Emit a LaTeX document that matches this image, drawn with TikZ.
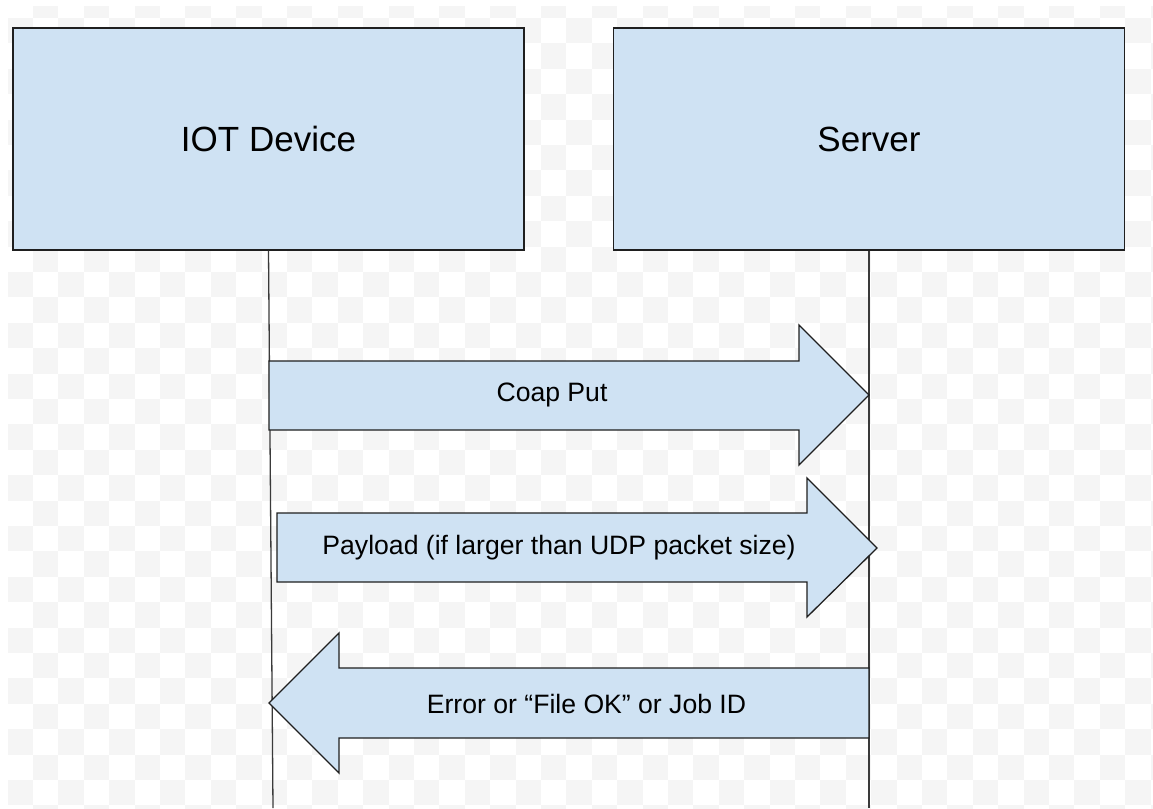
\documentclass[tikz,border=0pt]{standalone}
\usepackage{fontspec}
\setmainfont{Liberation Sans}
\definecolor{boxfill}{HTML}{CFE2F3}
\definecolor{edge}{HTML}{1F1F1F}
\definecolor{lifecol}{HTML}{3A3A3A}
\definecolor{checker}{HTML}{F5F5F5}
\tikzset{
  actor/.style={draw=edge, fill=boxfill, line width=1.3pt, minimum width=511pt, minimum height=222pt, inner sep=0pt, font=\fontsize{35}{40}\selectfont},
  lifeline/.style={draw=lifecol, line width=1.3pt},
  blockarrow/.style={draw=edge, fill=boxfill, line width=1.3pt, line join=miter},
  msg/.style={inner sep=0pt, font=\fontsize{26.6}{30}\selectfont}
}
\begin{document}
\begin{tikzpicture}[x=1pt,y=-1pt]
\useasboundingbox (0,0) rectangle (1153,808);
% faint checker background
\begin{scope}
  \clip (7,7) rectangle (1153,808);
  \foreach \i in {0,...,45}{
    \foreach \j in {0,...,32}{
      \pgfmathtruncatemacro\myparity{mod(\i+\j,2)}
      \ifnum\myparity=1
        \fill[checker] ({7.6+25.4*\i},{-7.4+25.4*\j}) rectangle ++(25.4,25.4);
      \fi
    }
  }
\end{scope}
% actors
\node[actor] (iot) at (268.5,139) {IOT Device};
\node[actor] (srv) at (869,139) {Server};
% lifelines
\coordinate (iotend) at (273,808);
\coordinate (srvend) at (869,808);
\draw[lifeline] (iot.south) -- (iotend);
\draw[lifeline] (srv.south) -- (srvend);
% block arrows
\draw[blockarrow] (269,361) -- (799,361) -- (799,325) -- (869,395) -- (799,465) -- (799,430) -- (269,430) -- cycle;
\node[msg] (m1) at (552,395) {Coap Put};
\draw[blockarrow] (277,513) -- (807,513) -- (807,478) -- (877,548) -- (807,617) -- (807,582) -- (277,582) -- cycle;
\node[msg] (m2) at (559,548) {Payload (if larger than UDP packet size)};
\draw[blockarrow] (869,668) -- (339,668) -- (339,633) -- (269,703) -- (339,773) -- (339,738) -- (869,738) -- cycle;
\node[msg] (m3) at (586.5,704) {Error or “File OK” or Job ID};
\end{tikzpicture}
\end{document}
